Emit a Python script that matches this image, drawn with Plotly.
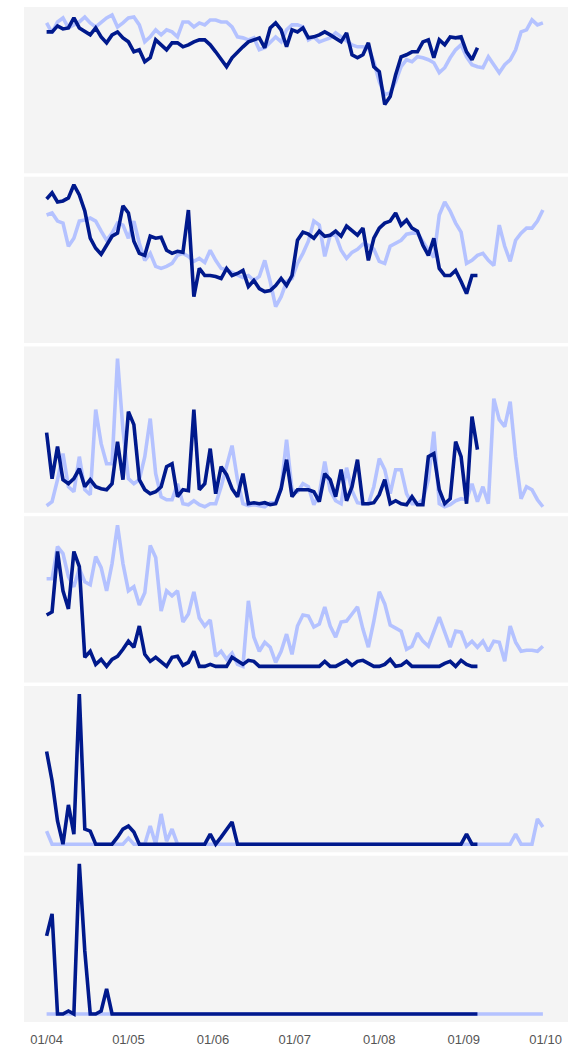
import pandas as pd
import plotly.graph_objects as go
from plotly.subplots import make_subplots

# ---------------- data ----------------
start_date = "2023-04-01"
dates_light = pd.date_range(start_date, periods=92, freq="2D")   # Apr 1 .. Sep 30
dates_dark = pd.date_range(start_date, periods=80, freq="2D")    # Apr 1 .. Sep 6

tick_dates = ["2023-04-01", "2023-05-01", "2023-06-01", "2023-07-01",
              "2023-08-01", "2023-09-01", "2023-10-01"]
tick_labels = ["01/04", "01/05", "01/06", "01/07", "01/08", "01/09", "01/10"]

p1_light = [151, 141, 152, 156, 146, 149, 152, 157, 151, 147,
            152, 156, 159, 147, 151, 156, 157, 149, 132, 137,
            144, 139, 144, 142, 137, 152, 152, 147, 151, 149,
            154, 154, 152, 152, 147, 137, 136, 134, 136, 124,
            126, 132, 137, 132, 144,
            149, 149, 147, 134, 137, 132, 134, 136, 141, 137,
            134, 129, 127, 127, 126, 112, 92, 79, 81, 92,
            107, 114, 112, 117, 116, 114, 111, 101, 106, 116,
            124, 129, 117, 109, 107, 106, 117, 109, 101, 109,
            114, 124, 142, 144, 154, 149, 151]
p1_dark = [142, 142, 148, 145, 146, 156, 146, 142, 139, 146,
           137, 131, 139, 142, 136, 132, 122, 124, 112, 116,
           134, 129, 124, 131, 131, 127, 129, 132, 134, 134,
           129, 122, 114, 107, 116, 122, 127, 132, 134, 136,
           126, 146, 151, 144, 127,
           144, 142, 146, 136, 137, 139, 142, 139, 136, 132,
           141, 119, 116, 119, 131, 107, 102, 69, 77, 99,
           117, 119, 122, 122, 132, 134, 116, 134, 129, 137,
           136, 137, 122, 114, 126]

p2_light = [127, 129, 121, 119, 96, 104, 121, 122, 124, 121,
            111, 102, 109, 119, 117, 104, 121, 99, 82, 89,
            76, 74, 76, 79, 87, 89, 86, 81, 84, 80,
            92, 82, 74, 73, 70, 67, 65, 67, 62, 66,
            82, 61, 36, 46, 61,
            64, 79, 89, 101, 121, 117, 86, 107, 107, 92,
            84, 90, 93, 98, 97, 93, 81, 79, 96, 99,
            102, 108, 109, 109, 100, 92, 85, 127, 140, 131,
            119, 110, 79, 82, 87, 89, 82, 77, 117, 96,
            81, 102, 109, 114, 114, 121, 132]
p2_dark = [143, 149, 140, 141, 144, 157, 147, 131, 104, 94,
           88, 97, 106, 109, 136, 129, 101, 89, 87, 106,
           104, 105, 92, 89, 91, 90, 132, 46, 74, 67,
           67, 66, 64, 74, 67, 69, 72, 56, 62, 54,
           51, 52, 57, 64, 57,
           67, 102, 110, 108, 104, 111, 106, 107, 111, 106,
           116, 112, 107, 114, 82, 104, 114, 119, 121, 129,
           117, 122, 114, 111, 97, 87, 104, 74, 67, 67,
           72, 61, 49, 67, 67]

p3_light = [1, 5, 27, 53, 20, 15, 50, 17, 12, 97,
            63, 43, 43, 148, 77, 28, 23, 27, 50, 88,
            33, 10, 7, 7, 23, 3, 2, 6, 2, 0,
            3, 3, 20, 40, 61, 27, 3, 1, 2, 1,
            0, 4, 4, 18, 67,
            17, 15, 23, 20, 2, 13, 45, 16, 6, 3,
            39, 16, 4, 3, 3, 20, 48, 37, 13, 37,
            37, 13, 3, 3, 7, 27, 75, 3, 0, 2,
            6, 8, 7, 23, 5, 20, 3, 108, 87, 80,
            105, 50, 8, 20, 17, 7, 0]
p3_dark = [74, 28, 60, 27, 23, 28, 38, 20, 27, 20,
           18, 17, 23, 65, 27, 95, 82, 27, 17, 13,
           15, 20, 40, 43, 10, 17, 16, 97, 17, 23,
           58, 13, 40, 32, 18, 10, 33, 3, 4, 3,
           4, 2, 3, 18, 47,
           10, 17, 17, 17, 15, 5, 33, 27, 10, 37,
           6, 20, 47, 3, 3, 4, 12, 27, 3, 6,
           3, 2, 10, 2, 2, 50, 53, 17, 3, 8,
           65, 50, 3, 90, 57]

p4_light = [87, 87, 119, 112, 89, 79, 97, 84, 81, 109,
            98, 75, 102, 140, 102, 75, 79, 61, 73, 120,
            108, 55, 75, 70, 75, 44, 52, 74, 48, 40,
            46, 10, 15, 7, 13, 2, 0, 65, 29, 15,
            24, 19, 4, 15, 32, 12, 40, 51, 50, 39,
            42, 59, 40, 29, 44, 45, 52, 59, 37, 19,
            45, 74, 62, 41, 38, 35, 17, 20, 33, 25,
            20, 35, 49, 34, 19, 35, 34, 20, 25, 19,
            25, 15, 25, 24, 5, 40, 24, 15, 16, 16,
            15, 20]
p4_dark = [51, 54, 114, 75, 57, 114, 99, 9, 15, 2,
           7, 0, 7, 10, 17, 25, 19, 40, 12, 5,
           9, 5, 0, 9, 10, 1, 4, 15, 0, 0,
           2, 0, 0, 0, 9, 6, 2, 6, 5, 0,
           0, 0, 0, 0, 0, 0, 0, 0, 0, 0,
           0, 5, 0, 0, 3, 6, 1, 5, 6, 3,
           0, 0, 2, 7, 0, 1, 5, 0, 0, 0,
           0, 0, 0, 3, 5, 0, 6, 2, 0, 0]

p5_light = [13, 0, 0, 0, 0, 0, 0, 0, 0, 0,
            0, 0, 0, 0, 0, 6, 0, 0, 0, 18,
            0, 30, 3, 15, 0, 0, 0, 0, 0, 0,
            0, 0, 0, 0, 0, 0, 0, 0, 0, 0,
            0, 0, 0, 0, 0, 0, 0, 0, 0, 0,
            0, 0, 0, 0, 0, 0, 0, 0, 0, 0,
            0, 0, 0, 0, 0, 0, 0, 0, 0, 0,
            0, 0, 0, 0, 0, 0, 0, 0, 0, 0,
            0, 0, 0, 0, 0, 0, 10, 0, 0, 0,
            25, 17]
p5_dark = [92, 63, 23, 0, 39, 10, 149, 15, 13, 0,
           0, 0, 0, 7, 15, 18, 12, 0, 0, 0,
           0, 0, 0, 0, 0, 0, 0, 0, 0, 0,
           10, 0, 7, 14, 22, 0, 0, 0, 0, 0,
           0, 0, 0, 0, 0, 0, 0, 0, 0, 0,
           0, 0, 0, 0, 0, 0, 0, 0, 0, 0,
           0, 0, 0, 0, 0, 0, 0, 0, 0, 0,
           0, 0, 0, 0, 0, 0, 0, 10, 0, 0]

p6_light = [0, 0, 0, 0, 0, 0, 0, 0, 0, 0,
            0, 0, 0, 0, 0, 0, 0, 0, 0, 0,
            0, 0, 0, 0, 0, 0, 0, 0, 0, 0,
            0, 0, 0, 0, 0, 0, 0, 0, 0, 0,
            0, 0, 0, 0, 0, 0, 0, 0, 0, 0,
            0, 0, 0, 0, 0, 0, 0, 0, 0, 0,
            0, 0, 0, 0, 0, 0, 0, 0, 0, 0,
            0, 0, 0, 0, 0, 0, 0, 0, 0, 0,
            0, 0, 0, 0, 0, 0, 0, 0, 0, 0,
            0, 0]
p6_dark = [78, 100, 0, 0, 3, 0, 150, 63, 0, 0,
           3, 25, 0, 0, 0, 0, 0, 0, 0, 0,
           0, 0, 0, 0, 0, 0, 0, 0, 0, 0,
           0, 0, 0, 0, 0, 0, 0, 0, 0, 0,
           0, 0, 0, 0, 0, 0, 0, 0, 0, 0,
           0, 0, 0, 0, 0, 0, 0, 0, 0, 0,
           0, 0, 0, 0, 0, 0, 0, 0, 0, 0,
           0, 0, 0, 0, 0, 0, 0, 0, 0, 0]

panels_light = [p1_light, p2_light, p3_light, p4_light, p5_light, p6_light]
panels_dark = [p1_dark, p2_dark, p3_dark, p4_dark, p5_dark, p6_dark]

# ---------------- styling ----------------
y_ranges = [[0, 167], [0, 165], [-6, 160], [-16, 149], [-8, 157], [-8, 158]]
x_range = ["2023-03-23 17:00", "2023-10-09 05:00"]
LIGHT = "#B4C2FF"
DARK = "#00198C"
BG = "#F4F4F4"

fig = make_subplots(rows=6, cols=1, shared_xaxes=True, vertical_spacing=0.00345)

for i in range(6):
    r = i + 1
    fig.add_trace(go.Scatter(x=dates_light, y=panels_light[i], mode="lines",
                             line=dict(color=LIGHT, width=3.6),
                             showlegend=False, hoverinfo="skip"), row=r, col=1)
    fig.add_trace(go.Scatter(x=dates_dark, y=panels_dark[i], mode="lines",
                             line=dict(color=DARK, width=3.6),
                             showlegend=False, hoverinfo="skip"), row=r, col=1)
    fig.update_yaxes(range=y_ranges[i], showticklabels=False, showgrid=False,
                     zeroline=False, ticks="", automargin=False, row=r, col=1)

fig.update_xaxes(range=x_range, showgrid=False, zeroline=False, showline=False,
                 automargin=False)
fig.update_xaxes(tickmode="array", tickvals=tick_dates, ticktext=tick_labels,
                 ticks="outside", ticklen=5, tickcolor="rgba(0,0,0,0)",
                 tickfont=dict(family="Liberation Sans, Arial, sans-serif",
                               size=13, color="#555555"),
                 row=6, col=1)

fig.update_layout(width=577, height=1050,
                  margin=dict(l=24, r=9, t=7, b=28),
                  paper_bgcolor="white", plot_bgcolor=BG,
                  showlegend=False)

fig.write_html("out.html", config={"displayModeBar": False},
               post_script="document.body.style.margin='0';document.body.style.padding='0';")
